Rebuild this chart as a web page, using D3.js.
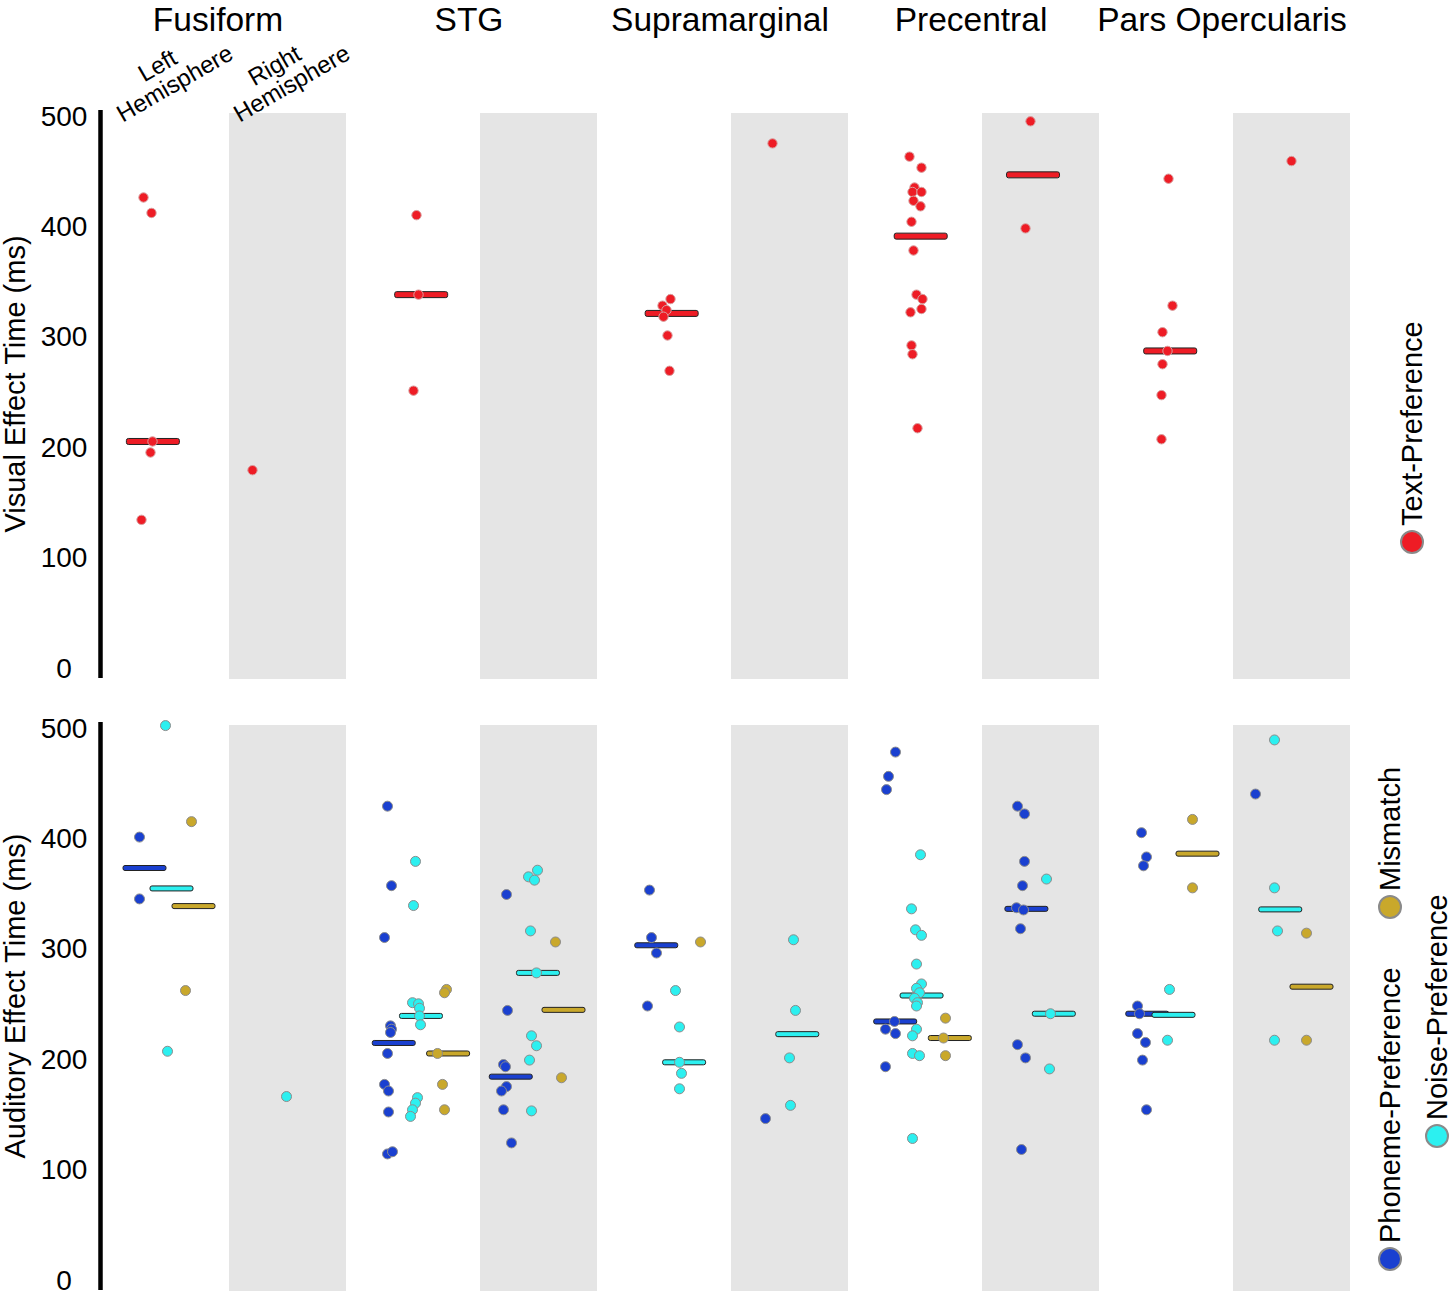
<!DOCTYPE html>
<html><head><meta charset="utf-8">
<script src="https://cdn.jsdelivr.net/npm/d3@7"></script>
<style>
body{margin:0;background:#fff}
svg{display:block;font-family:"Liberation Sans",Arial,Helvetica,sans-serif}
</style>
</head><body>
<svg id="chart" width="1453" height="1295"></svg>
<script>
// ---------------- data ----------------
const regions = ["Fusiform","STG","Supramarginal","Precentral","Pars Opercularis"];
const hemispheres = ["L","R"];
const hemisphereLabels = [["Left","Hemisphere"],["Right","Hemisphere"]];
const yTicks = [0,100,200,300,400,500];
const visualSeries = ["Text-Preference"];
const auditorySeries = ["Phoneme-Preference","Noise-Preference","Mismatch"];
const yLabels = ["Visual Effect Time (ms)","Auditory Effect Time (ms)"];

// rows: [region index, hemisphere, effect time (ms), horizontal jitter]
const textPreference = [
 [0,"L",428,-27],[0,"L",414,-19],[0,"L",207,-18],[0,"L",197,-20],[0,"L",136,-29],
 [0,"R",181,-35],
 [1,"L",412,-5],[1,"L",340,-3],[1,"L",253,-8],
 [2,"L",336,-2],[2,"L",330,-10],[2,"L",326,-6],[2,"L",320,-9],[2,"L",303,-5],[2,"L",271,-3],
 [2,"R",477,-17],
 [3,"L",465,-14],[3,"L",455,-2],[3,"L",437,-9],[3,"L",433,-11],[3,"L",433,-2],[3,"L",425,-10],[3,"L",420,-3],[3,"L",406,-12],
 [3,"L",380,-10],[3,"L",340,-7],[3,"L",336,-1],[3,"L",327,-2],[3,"L",324,-13],[3,"L",294,-12],[3,"L",286,-11],[3,"L",219,-6],
 [3,"R",497,-10],[3,"R",400,-15],
 [4,"L",445,-6],[4,"L",330,-2],[4,"L",306,-12],[4,"L",289,-7],[4,"L",277,-12],[4,"L",249,-13],[4,"L",209,-13],
 [4,"R",461,0]
];
const phonemePreference = [
 [0,"L",403,-31],[0,"L",347,-31],
 [1,"L",431,-34],[1,"L",359,-30],[1,"L",312,-37],[1,"L",232,-31],[1,"L",229,-30],[1,"L",226,-31],
 [1,"L",207,-34],[1,"L",179,-37],[1,"L",173,-33],[1,"L",154,-33],[1,"L",116,-34],[1,"L",118,-29],
 [1,"R",351,-32],[1,"R",246,-31],[1,"R",197,-35],[1,"R",195,-33],[1,"R",177,-32],[1,"R",173,-37],[1,"R",156,-35],[1,"R",126,-27],
 [2,"L",355,-23],[2,"L",312,-21],[2,"L",298,-16],[2,"L",250,-25],
 [2,"R",148,-24],
 [3,"L",480,-28],[3,"L",458,-35],[3,"L",446,-37],[3,"L",236,-29],[3,"L",229,-38],[3,"L",225,-28],[3,"L",195,-38],
 [3,"R",431,-23],[3,"R",424,-16],[3,"R",381,-16],[3,"R",359,-18],[3,"R",339,-24],[3,"R",337,-17],[3,"R",320,-20],
 [3,"R",215,-23],[3,"R",203,-15],[3,"R",120,-19],
 [4,"L",407,-33],[4,"L",385,-28],[4,"L",377,-31],[4,"L",250,-37],[4,"L",243,-35],[4,"L",225,-37],[4,"L",217,-29],[4,"L",201,-32],[4,"L",156,-28],
 [4,"R",442,-36]
];
const noisePreference = [
 [0,"L",504,-5],[0,"L",209,-3],
 [0,"R",168,-1],
 [1,"L",381,-6],[1,"L",341,-8],[1,"L",253,-9],[1,"L",252,-3],[1,"L",248,-2],[1,"L",241,-2],[1,"L",233,-1],
 [1,"L",167,-4],[1,"L",162,-6],[1,"L",156,-9],[1,"L",150,-11],
 [1,"R",373,-1],[1,"R",367,-10],[1,"R",364,-4],[1,"R",318,-8],[1,"R",280,-2],[1,"R",223,-7],[1,"R",214,-2],[1,"R",201,-9],[1,"R",155,-7],
 [2,"L",264,3],[2,"L",231,7],[2,"L",199,7],[2,"L",189,9],[2,"L",175,7],
 [2,"R",310,4],[2,"R",246,6],[2,"R",203,0],[2,"R",160,1],
 [3,"L",387,-3],[3,"L",338,-12],[3,"L",319,-8],[3,"L",314,-2],[3,"L",288,-7],[3,"L",270,-2],[3,"L",266,-7],[3,"L",262,-4],
 [3,"L",257,-9],[3,"L",253,-6],[3,"L",250,-7],[3,"L",229,-7],[3,"L",223,-11],[3,"L",207,-11],[3,"L",205,-4],[3,"L",130,-11],
 [3,"R",365,6],[3,"R",243,10],[3,"R",193,9],
 [4,"L",265,-5],[4,"L",219,-7],
 [4,"R",491,-17],[4,"R",357,-17],[4,"R",318,-14],[4,"R",219,-17]
];
const mismatch = [
 [0,"L",417,21],[0,"L",264,15],
 [1,"L",265,25],[1,"L",262,23],[1,"L",207,16],[1,"L",179,21],[1,"L",156,23],
 [1,"R",308,17],[1,"R",185,23],
 [2,"L",308,28],
 [3,"L",239,22],[3,"L",221,20],[3,"L",205,22],
 [4,"L",419,18],[4,"L",357,18],
 [4,"R",316,15],[4,"R",219,15]
];

// ---------------- styles ----------------
const colors = {
  "Text-Preference":"#ee1c25",
  "Phoneme-Preference":"#1a40d0",
  "Noise-Preference":"#2cf0f0",
  "Mismatch":"#c9a82b"
};
const seriesRows = {
  "Text-Preference": textPreference,
  "Phoneme-Preference": phonemePreference,
  "Noise-Preference": noisePreference,
  "Mismatch": mismatch
};

// ---------------- scales ----------------
const svg = d3.select("#chart");
const xRegion = d3.scaleBand().domain(regions).range([112,1350]).paddingInner(17/251).paddingOuter(0);
const xHemi = d3.scaleBand().domain(hemispheres).range([0, xRegion.bandwidth()]);
const jitter = d3.scaleLinear().domain([-58.5,58.5]).range([-xHemi.bandwidth()/2, xHemi.bandwidth()/2]);
const colCenter = (ri,h) => xRegion(regions[ri]) + xHemi(h) + xHemi.bandwidth()/2;

const yTop = d3.scaleLinear().domain([0,500]).range([670,118]);
const yBot = d3.scaleLinear().domain([0,500]).range([1282,730]);

const panels = [
  {y:yTop, label:yLabels[0], series:visualSeries, barW:53, barH:6, r:4.7},
  {y:yBot, label:yLabels[1], series:auditorySeries, barW:43, barH:5, r:5}
];

// ---------------- draw ----------------
panels.forEach(p => {
  const [y0, y1] = p.y.range();
  // grey right-hemisphere bands
  svg.append("g").selectAll("rect").data(regions).join("rect")
    .attr("x", r => xRegion(r) + xHemi("R"))
    .attr("y", y1 - 5)
    .attr("width", xHemi.bandwidth())
    .attr("height", (y0 + 9) - (y1 - 5))
    .attr("fill", "#e5e5e5");

  // axis spine
  svg.append("line")
    .attr("x1", 100.5).attr("x2", 100.5)
    .attr("y1", y1 - 8).attr("y2", y0 + 8)
    .attr("stroke", "#000").attr("stroke-width", 4.5);

  const ax = svg.append("g").attr("transform", "translate(100,0)")
    .call(d3.axisLeft(p.y).tickValues(yTicks).tickSize(0).tickPadding(36));
  ax.select(".domain").remove();
  ax.selectAll("text").attr("font-size", 28).attr("fill", "#000")
    .attr("text-anchor", "middle").attr("dy", "0.25em")
    .attr("font-family", "'Liberation Sans', Arial, sans-serif");

  // y label
  svg.append("text")
    .attr("transform", `translate(15,${(y0 + y1) / 2 - 10}) rotate(-90)`)
    .attr("text-anchor", "middle").attr("dominant-baseline", "central")
    .attr("font-size", 29).attr("fill", "#000").text(p.label);

  // groups
  const groups = [];
  p.series.forEach(s => {
    const g = d3.group(seriesRows[s], d => d[0], d => d[1]);
    g.forEach((byHemi, ri) => byHemi.forEach((rows, h) => {
      groups.push({series:s, rows, ri, h,
        xs: rows.map(d => colCenter(ri, h) + jitter(d[3])),
        median: d3.median(rows, d => d[2])});
    }));
  });

  // median bars
  const barG = svg.append("g");
  groups.filter(g => g.rows.length > 1).forEach(g => {
    const cx = d3.mean(g.xs) + 5;
    barG.append("rect")
      .attr("x", cx - p.barW / 2).attr("y", p.y(g.median) - p.barH / 2)
      .attr("width", p.barW).attr("height", p.barH)
      .attr("rx", 2).attr("fill", colors[g.series])
      .attr("stroke", "#222").attr("stroke-width", 1);
  });

  // points
  const ptG = svg.append("g");
  groups.forEach(g => {
    g.rows.forEach((d, i) => {
      ptG.append("circle")
        .attr("cx", g.xs[i]).attr("cy", p.y(d[2])).attr("r", p.r)
        .attr("fill", colors[g.series])
        .attr("stroke", g.series === "Text-Preference" ? "#d9a0a0" : "#8c8c8c")
        .attr("stroke-width", 1);
    });
  });
});

// region titles
svg.append("g").selectAll("text").data(regions).join("text")
  .attr("x", r => xRegion(r) + xRegion.bandwidth() / 2 - 11)
  .attr("y", 31)
  .attr("text-anchor", "middle").attr("font-size", 33.5).attr("fill", "#000")
  .text(r => r);

// hemisphere labels (above the first region)
hemispheres.forEach((h, i) => {
  const g = svg.append("g")
    .attr("transform", `translate(${colCenter(0, h) + 4},83) rotate(-30)`);
  g.append("text").attr("x", -6).attr("y", -24)
    .attr("text-anchor", "middle").attr("dominant-baseline", "central")
    .attr("font-size", 24).attr("fill", "#000").text(hemisphereLabels[i][0]);
  g.append("text").attr("x", 0).attr("y", 0)
    .attr("text-anchor", "middle").attr("dominant-baseline", "central")
    .attr("font-size", 24).attr("fill", "#000").text(hemisphereLabels[i][1]);
});

// legends (rotated)
const legendItems = [
  {name:visualSeries[0], cx:1412, cy:542},
  {name:auditorySeries[2], cx:1390, cy:907},
  {name:auditorySeries[0], cx:1390, cy:1259},
  {name:auditorySeries[1], cx:1437, cy:1136}
];
legendItems.forEach(l => {
  svg.append("circle").attr("cx", l.cx).attr("cy", l.cy).attr("r", 11)
    .attr("fill", colors[l.name]).attr("stroke", "#8a8a8a").attr("stroke-width", 2);
  svg.append("text")
    .attr("transform", `translate(${l.cx},${l.cy - 16}) rotate(-90)`)
    .attr("text-anchor", "start").attr("dominant-baseline", "central")
    .attr("font-size", 29).attr("fill", "#000").text(l.name);
});
</script>
</body></html>
